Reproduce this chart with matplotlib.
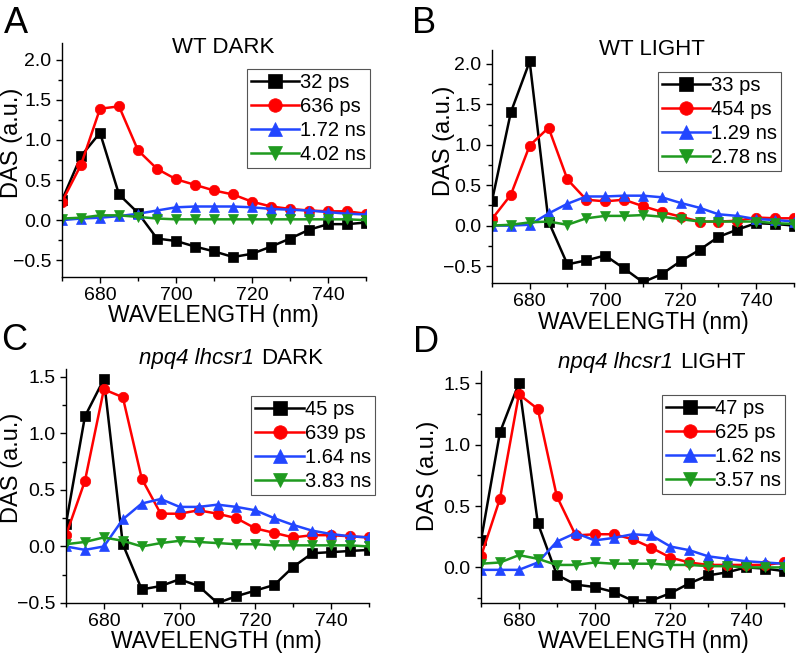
import numpy as np
import matplotlib
matplotlib.use("Agg")
import matplotlib.pyplot as plt
from matplotlib.ticker import MultipleLocator
from matplotlib.offsetbox import TextArea, HPacker, AnchoredOffsetbox

plt.rcParams['font.family'] = ['Liberation Sans', 'DejaVu Sans']

wavelength = [670, 675, 680, 685, 690, 695, 700, 705, 710, 715, 720, 725, 730, 735, 740, 745, 750]

# Panel A: WT DARK
a_labels = ["32 ps", "636 ps", "1.72 ns", "4.02 ns"]
a_s1 = [0.25, 0.80, 1.09, 0.32, 0.09, -0.23, -0.26, -0.33, -0.39, -0.46, -0.42, -0.33, -0.23, -0.12, -0.05, -0.05, -0.03]
a_s2 = [0.23, 0.69, 1.39, 1.42, 0.87, 0.64, 0.51, 0.44, 0.37, 0.32, 0.23, 0.17, 0.14, 0.12, 0.11, 0.11, 0.08]
a_s3 = [0.00, 0.02, 0.03, 0.05, 0.08, 0.12, 0.16, 0.17, 0.17, 0.17, 0.16, 0.14, 0.13, 0.12, 0.10, 0.08, 0.07]
a_s4 = [0.02, 0.03, 0.06, 0.06, 0.04, 0.02, 0.01, 0.01, 0.01, 0.01, 0.01, 0.01, 0.01, 0.01, 0.01, 0.01, 0.00]

# Panel B: WT LIGHT
b_labels = ["33 ps", "454 ps", "1.29 ns", "2.78 ns"]
b_s1 = [0.30, 1.40, 2.03, 0.05, -0.48, -0.43, -0.37, -0.53, -0.70, -0.60, -0.44, -0.30, -0.14, -0.05, 0.03, 0.02, 0.00]
b_s2 = [0.08, 0.38, 0.99, 1.21, 0.57, 0.32, 0.30, 0.32, 0.24, 0.17, 0.11, 0.05, 0.05, 0.06, 0.10, 0.09, 0.09]
b_s3 = [0.00, 0.00, 0.01, 0.15, 0.27, 0.36, 0.36, 0.37, 0.37, 0.35, 0.28, 0.22, 0.14, 0.12, 0.08, 0.07, 0.05]
b_s4 = [0.00, 0.01, 0.04, 0.05, 0.01, 0.09, 0.12, 0.12, 0.13, 0.11, 0.08, 0.05, 0.05, 0.05, 0.05, 0.03, 0.02]

# Panel C: npq4 lhcsr1 DARK
c_labels = ["45 ps", "639 ps", "1.64 ns", "3.83 ns"]
c_s1 = [0.20, 1.15, 1.48, 0.02, -0.38, -0.35, -0.29, -0.35, -0.50, -0.44, -0.39, -0.34, -0.18, -0.06, -0.05, -0.04, -0.03]
c_s2 = [0.10, 0.58, 1.39, 1.32, 0.60, 0.29, 0.29, 0.32, 0.29, 0.25, 0.16, 0.12, 0.08, 0.10, 0.10, 0.09, 0.08]
c_s3 = [0.00, -0.03, 0.00, 0.24, 0.38, 0.42, 0.35, 0.35, 0.37, 0.35, 0.32, 0.25, 0.19, 0.14, 0.11, 0.09, 0.08]
c_s4 = [0.02, 0.04, 0.08, 0.05, 0.00, 0.03, 0.05, 0.04, 0.03, 0.02, 0.02, 0.01, 0.01, 0.01, 0.01, 0.01, 0.00]

# Panel D: npq4 lhcsr1 LIGHT
d_labels = ["47 ps", "625 ps", "1.62 ns", "3.57 ns"]
d_s1 = [0.22, 1.10, 1.50, 0.36, -0.06, -0.14, -0.16, -0.20, -0.27, -0.27, -0.21, -0.13, -0.065, -0.04, 0.00, -0.01, -0.03]
d_s2 = [0.09, 0.56, 1.41, 1.29, 0.58, 0.26, 0.27, 0.27, 0.23, 0.16, 0.08, 0.04, 0.02, 0.02, 0.02, 0.02, 0.04]
d_s3 = [-0.02, -0.02, -0.02, 0.04, 0.21, 0.28, 0.22, 0.24, 0.27, 0.26, 0.17, 0.14, 0.09, 0.07, 0.05, 0.04, 0.03]
d_s4 = [0.03, 0.04, 0.10, 0.07, 0.02, 0.02, 0.04, 0.03, 0.03, 0.03, 0.02, 0.02, 0.01, 0.01, 0.00, 0.00, 0.00]

colors = ['black', '#ff0000', '#2246ff', '#1f9a1f']
markers = ['s', 'o', '^', 'v']

fig = plt.figure(figsize=(7.96, 6.56), dpi=100)

panels = [
    dict(rect=[0.0779, 0.5777, 0.382, 0.3567], series=[a_s1, a_s2, a_s3, a_s4], labels=a_labels,
         ylim=(-0.71, 2.21), title=("", "WT DARK"), tpos=(0.53, 0.983), leg=(1.013, 0.889),
         letter="A", lpos=(4, 33), ylpos=(-0.164, 0.573), xlpos=(0.498, -0.165)),
    dict(rect=[0.618, 0.5686, 0.3794, 0.355], series=[b_s1, b_s2, b_s3, b_s4], labels=b_labels,
         ylim=(-0.71, 2.17), title=("", "WT LIGHT"), tpos=(0.53, 1.004), leg=(0.957, 0.906),
         letter="B", lpos=(412, 33), ylpos=(-0.159, 0.61), xlpos=(0.5, -0.168)),
    dict(rect=[0.0829, 0.0808, 0.3807, 0.3567], series=[c_s1, c_s2, c_s3, c_s4], labels=c_labels,
         ylim=(-0.5, 1.57), title=("npq4 lhcsr1", "DARK"), tpos=(0.545, 1.043), leg=(1.02, 0.885),
         letter="C", lpos=(1, 350), ylpos=(-0.177, 0.577), xlpos=(0.495, -0.165)),
    dict(rect=[0.6043, 0.0808, 0.3807, 0.3537], series=[d_s1, d_s2, d_s3, d_s4], labels=d_labels,
         ylim=(-0.29, 1.6), title=("npq4 lhcsr1", "LIGHT"), tpos=(0.563, 1.036), leg=(1.003, 0.897),
         letter="D", lpos=(413, 352), ylpos=(-0.175, 0.547), xlpos=(0.535, -0.165)),
]

W, H = 796, 656
TFS = 16
for p in panels:
    ax = fig.add_axes(p['rect'])
    for s, lab, c, m in zip(p['series'], p['labels'], colors, markers):
        ax.plot(wavelength, s, color=c, marker=m, markersize=7.5, linewidth=1.8,
                label=lab, markeredgewidth=0.5)
    ax.set_xlim(670, 750)
    ax.set_ylim(*p['ylim'])
    ax.spines['top'].set_visible(False)
    ax.spines['right'].set_visible(False)
    ax.spines['left'].set_linewidth(1.0)
    ax.spines['bottom'].set_linewidth(1.0)
    ax.xaxis.set_major_locator(MultipleLocator(20))
    ax.xaxis.set_minor_locator(MultipleLocator(10))
    ax.yaxis.set_major_locator(MultipleLocator(0.5))
    ax.yaxis.set_minor_locator(MultipleLocator(0.25))
    ax.tick_params(which='major', direction='out', length=4.5, width=1.0, labelsize=14, pad=3)
    ax.tick_params(which='minor', direction='out', length=3, width=1.0)
    ax.set_xlabel("WAVELENGTH (nm)", fontsize=16.5, va='center')
    ax.xaxis.set_label_coords(*p['xlpos'])
    ax.set_ylabel("DAS (a.u.)", fontsize=17, va='center')
    ax.yaxis.set_label_coords(*p['ylpos'])

    it_txt, rm_txt = p['title']
    children = []
    if it_txt:
        children.append(TextArea(it_txt, textprops=dict(style='italic', fontsize=TFS)))
    children.append(TextArea(rm_txt, textprops=dict(fontsize=TFS)))
    pack = HPacker(children=children, align='baseline', pad=0, sep=5)
    ab = AnchoredOffsetbox(loc='center', child=pack, pad=0, borderpad=0, frameon=False,
                           bbox_to_anchor=p['tpos'], bbox_transform=ax.transAxes)
    ax.add_artist(ab)

    leg = ax.legend(loc='upper right', bbox_to_anchor=p['leg'], fontsize=14.5,
                    frameon=True, fancybox=False, framealpha=1, edgecolor='#555555',
                    handlelength=2.4, handletextpad=0.05, labelspacing=0.25,
                    borderpad=0.2, borderaxespad=0, markerscale=1.3)
    leg.get_frame().set_linewidth(0.8)
    fig.text(p['lpos'][0] / W, 1 - p['lpos'][1] / H, p['letter'], fontsize=26,
             ha='left', va='baseline')

fig.savefig("out.png", dpi=100)
